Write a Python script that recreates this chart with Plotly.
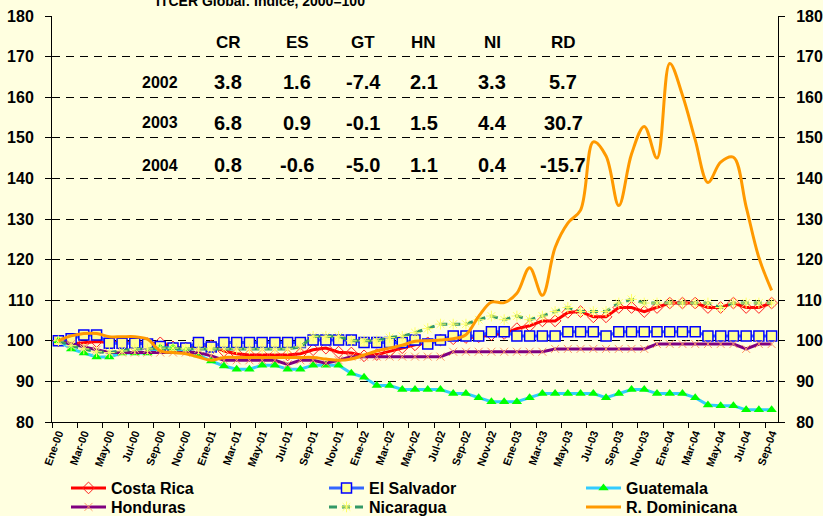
import plotly.graph_objects as go

# ---------------- data ----------------
months_es = ["Ene", "Feb", "Mar", "Abr", "May", "Jun", "Jul", "Ago", "Sep", "Oct", "Nov", "Dic"]
categories = [f"{m}-{y:02d}" for y in range(0, 5) for m in months_es][:57]

costa_rica = [100, 99.2, 99.5, 99.8, 99.6, 99.6, 99.6, 99.3, 99.5, 98.5,
              98.2, 99.0, 98.8, 97.5, 96.8, 96.5, 96.5, 96.5, 96.5, 96.8,
              97.8, 98.2, 97.2, 97.0, 96.3, 96.6, 97.4, 98.3, 99.0, 99.5,
              100.2, 100.5, 100.8, 101.0, 101.5, 101.8, 103.0, 103.7, 104.9, 104.9,
              107.0, 107.2, 105.9, 105.9, 108.2, 108.2, 107.2, 108.2, 109.3, 109.3,
              109.3, 108.2, 108.2, 109.3, 108.2, 108.2, 109.3]
el_salvador = [100, 100.5, 101.4, 101.4, 99.4, 99.4, 99.4, 99.2, 98.6, 98.2,
               98.2, 99.6, 98.5, 99.6, 99.6, 99.6, 99.6, 99.6, 99.6, 99.6,
               100.2, 100.2, 100.2, 100.2, 99.6, 99.6, 99.6, 99.6, 100.2, 99.2,
               100.2, 101.2, 101.2, 101.2, 102.2, 102.2, 101.2, 101.2, 101.2, 101.2,
               102.2, 102.2, 102.2, 101.2, 102.2, 102.2, 102.2, 102.2, 102.2, 102.2,
               102.2, 101.2, 101.2, 101.2, 101.2, 101.2, 101.2]
guatemala = [100, 98, 97, 96, 96, 97, 97, 97, 98.2, 98.2,
             97.5, 96.5, 95, 93.8, 93, 93, 94, 94, 93, 93,
             94, 94, 94, 92, 91, 89, 89, 88, 88, 88,
             88, 87, 87, 86, 85, 85, 85, 86, 87, 87,
             87, 87, 87, 86, 87, 88, 88, 87, 87, 87,
             86, 84.2, 84, 84, 83, 83, 83]
honduras = [100, 99.2, 98.5, 97.8, 97.1, 97.1, 97.1, 97.1, 97.1, 97.1,
            97.1, 97.1, 96.3, 95.2, 95.2, 95.2, 95.2, 95.2, 94.2, 95.2,
            95.2, 94.5, 95.2, 96.1, 96.1, 96.1, 96.1, 96.1, 96.1, 96.1,
            96.1, 97.3, 97.3, 97.3, 97.3, 97.3, 97.3, 97.3, 97.3, 98.0,
            98.0, 98.0, 98.0, 98.0, 98.0, 98.0, 98.0, 99.2, 99.2, 99.2,
            99.2, 99.2, 99.2, 99.2, 98.0, 99.2, 99.2]
nicaragua = [100, 98.8, 98, 97.3, 97.1, 97.5, 98, 98, 98.2, 98.2,
             98, 98, 98, 98, 98, 98, 98, 98, 98, 98.5,
             101.1, 101.1, 101.1, 100, 100, 100, 100.8, 101.1, 102, 103,
             104.1, 104.1, 104.1, 105.2, 106.1, 105.2, 106.1, 105.2, 106.1, 107.2,
             108.2, 107.2, 107.2, 107.2, 109.3, 110.2, 109.3, 109.3, 109.3, 109.3,
             109.3, 109.3, 108.2, 109.3, 109.3, 109.3, 109.3]
r_dominicana = [100, 101.2, 101.8, 101.8, 101, 101, 101, 100.4, 97.5, 97.1,
                96.8, 96, 95.2, 95.9, 95.9, 95.9, 95.9, 95.9, 95.9, 95.9,
                95.9, 95.5, 95.2, 95.5, 96.5, 97.5, 98.2, 98.9, 99.9, 100,
                100.2, 100.5, 101.5, 106, 109.5, 109.4, 111.7, 118, 111.2, 123,
                129, 132.2, 149, 145.5, 133.3, 146, 152.8, 145, 168.3, 160.5,
                149.5, 139, 144, 145.2, 133, 120.5, 112.4]

table_cols = ["CR", "ES", "GT", "HN", "NI", "RD"]
table_years = ["2002", "2003", "2004"]
table_values = [[3.8, 1.6, -7.4, 2.1, 3.3, 5.7],
                [6.8, 0.9, -0.1, 1.5, 4.4, 30.7],
                [0.8, -0.6, -5.0, 1.1, 0.4, -15.7]]

y_ticks = list(range(80, 181, 10))
title_text = "ITCER Global: Índice, 2000=100"

# ---------------- style / layout constants ----------------
BG = "#FFFFE0"
FONT = "Liberation Sans, Arial, sans-serif"
W, H = 823, 516
ML, MR, MT, MB = 52, 45, 16, 94
PW, PH = W - ML - MR, H - MT - MB


def px_x(x):
    return (x - ML) / PW


def px_y(y):
    return (H - MB - y) / PH


fig = go.Figure()


def add(name, vals, color, legend, dash="solid", shape="linear", marker=None):
    fig.add_trace(go.Scatter(
        x=categories, y=vals, name=name, legend=legend,
        mode="lines+markers" if marker else "lines",
        line=dict(color=color, width=3, dash=dash, shape=shape, smoothing=1.0),
        marker=marker, hoverinfo="skip"))


add("Costa Rica", costa_rica, "#FF0000", "legend",
    marker=dict(symbol="diamond-open", size=9, color="#FF2020", line=dict(width=1)))
add("El Salvador", el_salvador, "#3366FF", "legend2",
    marker=dict(symbol="square", size=10, color="#FFFF99", line=dict(color="#0000FF", width=1.5)))
add("Guatemala", guatemala, "#33CCFF", "legend3",
    marker=dict(symbol="triangle-up", size=9, color="#00FF00", line=dict(width=0)))
add("Honduras", honduras, "#800080", "legend4",
    marker=dict(symbol="x-thin-open", size=8, color="#FF9966", line=dict(width=1, color="#FF9966")))
add("Nicaragua", nicaragua, "#339966", "legend5", dash="8px,5px",
    marker=dict(symbol="asterisk-open", size=9, color="#FFFF66", line=dict(width=1, color="#FFFF66")))
add("R. Dominicana", r_dominicana, "#FF9900", "legend6", shape="spline")

# invisible trace to activate the right-hand axis
fig.add_trace(go.Scatter(x=[categories[0]], y=[None], yaxis="y2", showlegend=False,
                         hoverinfo="skip", mode="lines"))

annotations = []
col_x = [228, 297, 363, 424, 492, 563]
row_y = [82, 123, 165]


def txt(text, x, y, size):
    return dict(text=text, x=px_x(x), y=px_y(y), xref="paper", yref="paper",
                xanchor="center", yanchor="middle", showarrow=False,
                font=dict(size=size, family=FONT, weight="bold", color="black"))


for name, x in zip(table_cols, col_x):
    annotations.append(txt(name, x, 42, 17))
for r, (yr, vals) in enumerate(zip(table_years, table_values)):
    annotations.append(txt(yr, 160, row_y[r], 16))
    for v, x in zip(vals, col_x):
        annotations.append(txt(f"{v:.1f}", x, row_y[r], 20))

annotations.append(dict(text=title_text, x=px_x(260), y=1 + (MT - 11) / PH, xref="paper", yref="paper",
                        xanchor="center", yanchor="bottom", showarrow=False,
                        font=dict(size=14, family=FONT, weight="bold", color="black")))

legend_common = dict(orientation="v", yanchor="top", xanchor="left", bgcolor="rgba(0,0,0,0)",
                     font=dict(size=16, family=FONT, weight="bold", color="black"),
                     tracegroupgap=0, itemwidth=35)
leg_cols = [66, 324, 581]
leg_rows = [471, 490]

yaxis_common = dict(range=[80, 180], tickvals=y_ticks, showline=True, linecolor="black", linewidth=1,
                    ticks="outside", ticklen=6, tickcolor="black", ticklabelstandoff=8,
                    tickfont=dict(size=16, family=FONT, weight="bold", color="black"),
                    automargin=False, zeroline=False)

legends = {}
for k in range(6):
    key = "legend" if k == 0 else f"legend{k + 1}"
    legends[key] = dict(legend_common, x=px_x(leg_cols[k % 3]), y=px_y(leg_rows[k // 3]))

fig.update_layout(
    width=W, height=H,
    margin=dict(l=ML, r=MR, t=MT, b=MB, pad=0, autoexpand=False),
    paper_bgcolor=BG, plot_bgcolor=BG,
    font=dict(family=FONT, color="black"),
    showlegend=True,
    xaxis=dict(type="category", range=[-0.5, 56.5], tickmode="linear", dtick=2, tick0=0,
               tickson="boundaries", ticks="outside", ticklen=5, tickcolor="black",
               showline=True, linecolor="black", linewidth=1, showgrid=False,
               tickangle=-70, tickfont=dict(size=11, family=FONT, weight="bold", color="black"),
               automargin=False),
    yaxis=dict(yaxis_common, showgrid=True, gridcolor="black", gridwidth=1, griddash="8px,6px"),
    yaxis2=dict(yaxis_common, overlaying="y", side="right", showgrid=False),
    annotations=annotations,
    **legends,
)

fig.write_html("out.html", config={"displayModeBar": False},
               post_script="document.body.style.margin='0';document.body.style.overflow='hidden';")
